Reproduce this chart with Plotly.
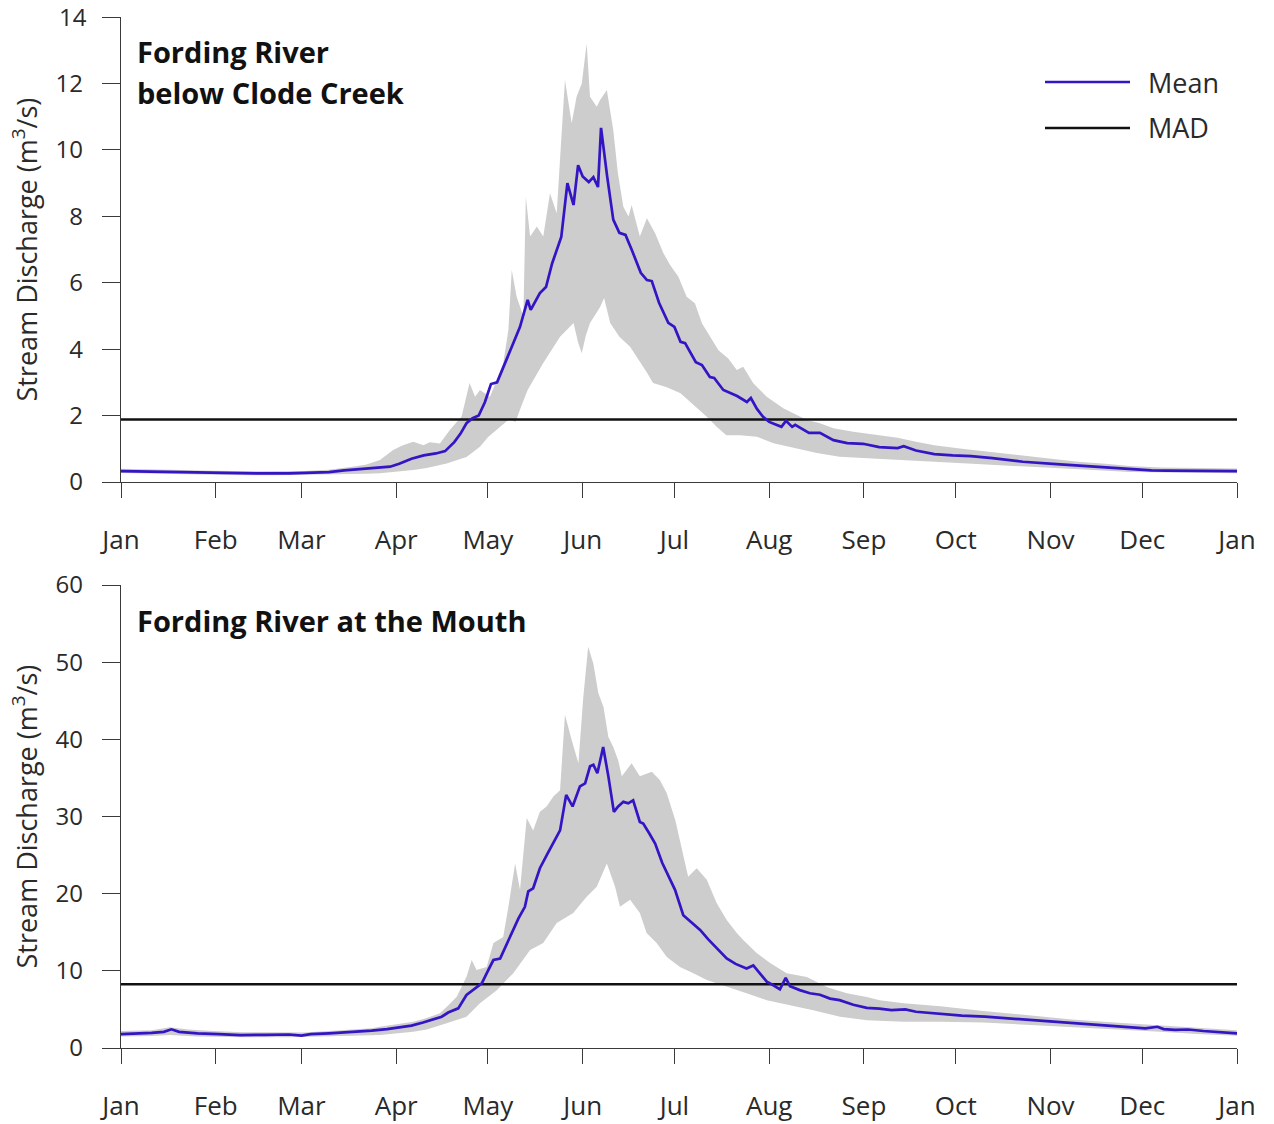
import plotly.graph_objects as go

# ---------------- data (day of year, m3/s) ----------------
month_ticks = [0, 31, 59, 90, 120, 151, 181, 212, 243, 273, 304, 334, 365]
month_labels = ["Jan", "Feb", "Mar", "Apr", "May", "Jun", "Jul", "Aug", "Sep", "Oct", "Nov", "Dec", "Jan"]
top_yticks = [0, 2, 4, 6, 8, 10, 12, 14]
bot_yticks = [0, 10, 20, 30, 40, 50, 60]

# Fording River below Clode Creek
top_mean_day = [0, 6, 14, 25, 35, 45, 55, 62, 68, 73, 78, 84, 88, 91, 95, 99, 103, 106, 109, 111, 113, 115, 117,
                119, 121, 123, 126, 128, 130.5, 133, 134, 137, 139, 141, 144, 146, 148, 149.5, 151, 153, 154.5, 156,
                157, 159, 161, 163, 165, 167, 170, 172, 173.6, 176, 179, 181, 183, 184.5, 188, 190, 192.6, 194, 197,
                201.5, 204.7, 206, 208, 210, 212, 216, 217.5, 219.5, 220.5, 225, 228.6, 233, 237.5, 242.7, 248, 254,
                256, 260, 266, 272, 278, 285, 295, 306, 314, 321, 330, 337, 342, 350, 358, 365]
top_mean_val = [0.33, 0.32, 0.31, 0.29, 0.27, 0.26, 0.26, 0.27, 0.30, 0.35, 0.38, 0.42, 0.46, 0.55, 0.70, 0.80, 0.86,
                0.93, 1.20, 1.45, 1.77, 1.92, 2.00, 2.40, 2.95, 3.00, 3.67, 4.15, 4.67, 5.48, 5.18, 5.69, 5.87, 6.58,
                7.38, 9.00, 8.34, 9.54, 9.20, 9.03, 9.18, 8.88, 10.66, 9.20, 7.90, 7.50, 7.44, 7.00, 6.30, 6.08, 6.05,
                5.39, 4.79, 4.67, 4.22, 4.18, 3.61, 3.52, 3.16, 3.13, 2.77, 2.59, 2.41, 2.53, 2.20, 1.96, 1.81, 1.66,
                1.84, 1.66, 1.72, 1.48, 1.48, 1.26, 1.17, 1.15, 1.05, 1.02, 1.08, 0.95, 0.84, 0.80, 0.78, 0.72, 0.61,
                0.54, 0.49, 0.44, 0.38, 0.35, 0.34, 0.33, 0.32, 0.33]
top_upper_day = [0, 10, 20, 30, 45, 60, 68, 75, 80, 84.7, 89, 92, 95.6, 98.9, 101, 104.3, 107.6, 111.4, 114, 115.8,
                 117.4, 120.7, 122.9, 125, 126.7, 127.8, 129.4, 131.6, 132.4, 133.8, 136, 138.1, 140.3, 142.5, 145.2,
                 147.4, 149, 150.7, 152.3, 153.4, 155.6, 156.7, 158.9, 161, 162.5, 164.3, 166, 167, 169.7, 172,
                 174.7, 177.4, 179.6, 182.3, 185, 187.7, 190, 192.6, 195.4, 198.6, 201.4, 203.5, 206.8, 211.2, 216.6,
                 219.9, 224.3, 228.6, 233, 239.5, 248.2, 254, 260, 266, 275, 284, 298, 313, 322, 330, 340, 352, 365]
top_upper_val = [0.40, 0.39, 0.36, 0.34, 0.32, 0.33, 0.37, 0.45, 0.52, 0.66, 0.96, 1.10, 1.21, 1.11, 1.20, 1.16, 1.57,
                 1.97, 2.98, 2.57, 2.77, 2.57, 3.07, 3.57, 4.58, 6.38, 5.58, 4.98, 8.59, 7.39, 7.69, 7.39, 8.69, 8.09,
                 12.1, 10.8, 11.6, 12.0, 13.2, 11.6, 11.3, 11.5, 11.8, 10.6, 9.3, 8.29, 7.99, 8.34, 7.39, 7.94, 7.49,
                 6.89, 6.53, 6.18, 5.58, 5.38, 4.78, 4.37, 3.97, 3.72, 3.37, 3.47, 2.97, 2.57, 2.22, 2.07, 1.87, 1.77,
                 1.62, 1.51, 1.41, 1.33, 1.21, 1.11, 1.00, 0.91, 0.75, 0.61, 0.55, 0.48, 0.44, 0.42, 0.41]
top_lower_day = [0, 10, 20, 35, 50, 62, 72, 80, 84.7, 95.6, 100, 106.5, 113, 117.4, 120, 124, 127, 129, 131, 133,
                 138, 143.6, 148, 149.5, 150.7, 152, 153.4, 156.7, 158, 160, 163, 166.5, 170, 172, 174, 178.5, 183,
                 188, 191.5, 194.8, 198, 202.5, 208, 213.4, 220, 227.6, 235, 244, 255, 266, 280, 295, 312, 330, 345,
                 365]
top_lower_val = [0.27, 0.25, 0.23, 0.21, 0.20, 0.21, 0.24, 0.25, 0.26, 0.36, 0.42, 0.56, 0.75, 1.06, 1.35, 1.66,
                 1.90, 1.81, 2.30, 2.77, 3.57, 4.37, 4.79, 4.20, 3.88, 4.40, 4.79, 5.27, 5.54, 4.79, 4.37, 4.07, 3.57,
                 3.30, 2.98, 2.85, 2.67, 2.27, 1.97, 1.66, 1.41, 1.41, 1.36, 1.17, 1.02, 0.87, 0.76, 0.72, 0.67, 0.61,
                 0.54, 0.48, 0.39, 0.30, 0.27, 0.26]
top_mad = 1.88

# Fording River at the Mouth
bot_mean_day = [0, 5, 10, 14, 16.5, 19, 25, 32, 39, 47, 55, 59, 62, 68, 75, 82, 87, 91.6, 95, 98.8, 102, 104.9, 107,
                110.3, 113, 115.8, 118, 120, 121.8, 124, 126, 128.3, 130, 132.1, 133.2, 134.8, 137, 139.5, 142, 143.6,
                145.6, 147.7, 150.1, 151.8, 153.4, 154.5, 155.8, 157.7, 159.4, 161.2, 162.6, 164.3, 165.9, 167.5,
                169.7, 170.8, 172.8, 174.7, 177, 179.5, 181.2, 183.9, 186.5, 189.4, 192, 194.8, 198.1, 201, 204.6,
                206.8, 209, 211.2, 213.5, 215.5, 217.4, 218.8, 222, 225.3, 228.6, 231.9, 235, 239.5, 243.9, 248, 252,
                256.5, 260, 268, 275, 282.6, 290, 297, 304, 311, 318, 325.7, 331, 335, 339, 341, 344.7, 349, 354, 360,
                365]
bot_mean_val = [1.80, 1.85, 1.95, 2.10, 2.42, 2.10, 1.90, 1.80, 1.68, 1.70, 1.75, 1.60, 1.80, 1.90, 2.05, 2.25, 2.45,
                2.68, 2.90, 3.30, 3.70, 4.06, 4.60, 5.14, 6.87, 7.73, 8.38, 10.0, 11.4, 11.6, 13.3, 15.3, 16.8, 18.3,
                20.3, 20.7, 23.3, 25.2, 27.0, 28.2, 32.8, 31.3, 33.9, 34.3, 36.5, 36.7, 35.6, 39.0, 35.2, 30.6, 31.3,
                31.9, 31.7, 32.1, 29.3, 29.1, 27.8, 26.5, 24.0, 21.8, 20.5, 17.2, 16.3, 15.3, 14.1, 12.9, 11.6, 10.9,
                10.3, 10.7, 9.6, 8.6, 8.1, 7.6, 9.1, 8.0, 7.5, 7.1, 6.9, 6.4, 6.2, 5.6, 5.2, 5.1, 4.9, 5.0, 4.7, 4.4,
                4.2, 4.06, 3.85, 3.63, 3.40, 3.20, 3.05, 2.85, 2.65, 2.55, 2.75, 2.45, 2.35, 2.40, 2.20, 2.05, 1.90]
bot_upper_day = [0, 10, 16, 22, 30, 40, 50, 60, 68, 75, 82, 84.7, 90, 95.6, 100, 104.3, 107, 109.8, 113, 114.7,
                 116.3, 119.6, 121.8, 125, 126.7, 128.9, 130.5, 132.7, 134.8, 137, 139.2, 141.4, 143.6, 145.2, 147.4,
                 149.6, 151.2, 152.8, 154.5, 156.1, 157.8, 159.4, 161, 162.6, 163.8, 167, 169.7, 173.6, 176.3, 178.5,
                 181.3, 182.8, 185.5, 188.3, 191.6, 194.8, 198.1, 201.4, 203.5, 207.9, 212.3, 217.7, 224.3, 230.8,
                 237.4, 243.9, 248.2, 256, 268, 282, 297, 311, 325, 338, 350, 365]
bot_upper_val = [2.2, 2.3, 2.7, 2.4, 2.2, 2.05, 2.05, 2.0, 2.2, 2.35, 2.55, 2.76, 3.1, 3.41, 3.9, 4.49, 5.5, 6.65,
                 9.24, 11.4, 10.1, 10.5, 13.6, 14.4, 18.3, 23.9, 20.5, 29.8, 28.2, 30.6, 31.3, 32.6, 33.4, 43.2, 39.9,
                 36.9, 45.5, 52.0, 49.8, 46.0, 44.2, 40.3, 39.0, 37.3, 35.2, 36.9, 35.2, 35.8, 34.7, 33.0, 29.5, 27.0,
                 22.2, 23.3, 21.8, 18.8, 16.6, 14.9, 14.0, 12.3, 11.0, 9.7, 9.2, 7.9, 7.1, 6.6, 6.2, 5.8, 5.4, 4.8,
                 4.2, 3.7, 3.3, 3.0, 2.7, 2.3]
bot_lower_day = [0, 10, 16, 25, 40, 55, 65, 75, 84.7, 95.6, 100, 106.5, 113, 117.4, 122.9, 128.3, 133.8, 138.1,
                 142.5, 147.9, 152.3, 155.6, 158.9, 161.6, 163.2, 166.5, 169.7, 171.9, 175.2, 178.5, 182.8, 187.2,
                 191.6, 198.1, 204.6, 211.2, 217.7, 226.4, 235.2, 244, 256, 268, 282, 297, 311, 325, 340, 352, 365]
bot_lower_val = [1.5, 1.55, 1.7, 1.5, 1.4, 1.4, 1.5, 1.6, 1.68, 2.1, 2.4, 3.2, 4.06, 5.8, 7.5, 9.7, 12.7, 13.6, 16.2,
                 17.5, 19.6, 20.9, 23.9, 20.9, 18.3, 19.2, 17.5, 14.9, 13.6, 11.8, 10.5, 9.7, 8.8, 7.9, 7.1, 6.2, 5.6,
                 4.9, 4.06, 3.6, 3.4, 3.4, 3.3, 3.0, 2.7, 2.4, 2.1, 1.8, 1.6]
bot_mad = 8.25

# ---------------- style ----------------
FONT = "Open Sans"
W, H = 1274, 1124
MEAN_COL = "#3414C4"
BAND_COL = "#CDCDCD"
AX_COL = "#3a3a3a"
TXT_COL = "#2a2a2a"

xdom = [121 / W, 1237 / W]
top_dom = [1 - 482 / H, 1 - 17 / H]
bot_dom = [1 - 1048 / H, 1 - 585 / H]

fig = go.Figure()


def add_panel(xa, ya, md, mv, ud, uv, ld, lv, mad):
    fig.add_trace(go.Scatter(x=ud + ld[::-1], y=uv + lv[::-1], fill="toself", fillcolor=BAND_COL,
                             line=dict(width=0), mode="lines", hoverinfo="skip", showlegend=False,
                             xaxis=xa, yaxis=ya))
    fig.add_trace(go.Scatter(x=[0, 365], y=[mad, mad], mode="lines", line=dict(color="#111111", width=2.5),
                             showlegend=False, xaxis=xa, yaxis=ya))
    fig.add_trace(go.Scatter(x=md, y=mv, mode="lines", line=dict(color=MEAN_COL, width=2.7),
                             showlegend=False, xaxis=xa, yaxis=ya))


add_panel("x", "y", top_mean_day, top_mean_val, top_upper_day, top_upper_val, top_lower_day, top_lower_val, top_mad)
add_panel("x2", "y2", bot_mean_day, bot_mean_val, bot_upper_day, bot_upper_val, bot_lower_day, bot_lower_val, bot_mad)

xtickfont = dict(family=FONT, size=26, color=TXT_COL)
ytickfont = dict(family=FONT, size=24, color=TXT_COL)
xcommon = dict(range=[0, 365], tickvals=month_ticks, ticktext=month_labels, showline=True, linecolor=AX_COL,
               linewidth=1.3, ticks="outside", ticklen=15, tickwidth=1.3, tickcolor=AX_COL, showgrid=False,
               zeroline=False, tickfont=xtickfont, ticklabelstandoff=20, domain=xdom, automargin=False)
ycommon = dict(showline=True, linecolor=AX_COL, linewidth=1.3, ticks="outside", ticklen=18, tickwidth=1.3,
               tickcolor=AX_COL, showgrid=False, zeroline=False, tickfont=ytickfont, ticklabelstandoff=14,
               automargin=False)

# the top-most label of the upper axis sits at the page edge, so it is written as an annotation
top_ticktext = [str(v) for v in top_yticks[:-1]] + [""]

fig.update_layout(
    width=W, height=H, margin=dict(l=0, r=0, t=0, b=0, autoexpand=False),
    paper_bgcolor="white", plot_bgcolor="white", showlegend=False,
    xaxis=dict(anchor="y", **xcommon),
    yaxis=dict(anchor="x", range=[0, 14], tickvals=top_yticks, ticktext=top_ticktext, domain=top_dom, **ycommon),
    xaxis2=dict(anchor="y2", **xcommon),
    yaxis2=dict(anchor="x2", range=[0, 60], tickvals=bot_yticks, domain=bot_dom, **ycommon),
)

fig.add_annotation(text=str(top_yticks[-1]), xref="paper", x=89 / W, yref="y", y=top_yticks[-1], xanchor="right",
                   yanchor="middle", showarrow=False, font=ytickfont)

ytitle = "Stream Discharge (m<sup>3</sup>/s)"
for yref in ["y domain", "y2 domain"]:
    fig.add_annotation(text=ytitle, xref="paper", x=25 / W, yref=yref, y=0.5, xanchor="center", yanchor="middle",
                       textangle=-90, showarrow=False, font=dict(family=FONT, size=27, color=TXT_COL))

title_font = dict(family=FONT, size=29, color="#111111")
fig.add_annotation(text="<b>Fording River</b>", xref="paper", x=135 / W, yref="paper", y=1 - 52 / H,
                   xanchor="left", yanchor="middle", showarrow=False, font=title_font)
fig.add_annotation(text="<b>below Clode Creek</b>", xref="paper", x=135 / W, yref="paper", y=1 - 93 / H,
                   xanchor="left", yanchor="middle", showarrow=False, font=title_font)
fig.add_annotation(text="<b>Fording River at the Mouth</b>", xref="paper", x=135 / W, yref="paper", y=1 - 620 / H,
                   xanchor="left", yanchor="middle", showarrow=False, font=title_font)

# legend (top panel, upper right)
for ypix, col, label in [(82, MEAN_COL, "Mean"), (128, "#111111", "MAD")]:
    fig.add_shape(type="line", xref="paper", yref="paper", x0=1045 / W, x1=1130 / W, y0=1 - ypix / H,
                  y1=1 - ypix / H, line=dict(color=col, width=2.7))
    fig.add_annotation(text=label, xref="paper", x=1146 / W, yref="paper", y=1 - ypix / H, xanchor="left",
                       yanchor="middle", showarrow=False, font=dict(family=FONT, size=27, color=TXT_COL))

fig.write_html("out.html")
